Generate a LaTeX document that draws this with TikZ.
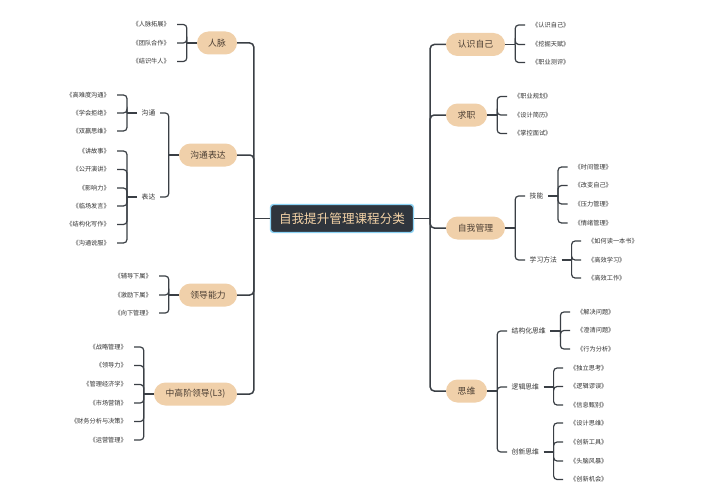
\documentclass[tikz,border=0pt]{standalone}
\usepackage{fontspec}
\setmainfont{Noto Sans CJK SC}
\usetikzlibrary{calc}
\definecolor{peach}{HTML}{F0D0AA}
\definecolor{lnc}{HTML}{3A3F45}
\definecolor{rootbg}{HTML}{2F353D}
\definecolor{rootbd}{HTML}{8CD3F5}
\definecolor{roottx}{HTML}{F3D2A6}
\definecolor{maintx}{HTML}{4B3E33}
\definecolor{booktx}{HTML}{333333}
\begin{document}
\begin{tikzpicture}[x=1pt,y=-1pt,
  rootbox/.style={draw=rootbd, line width=1.4pt, fill=rootbg, rounded corners=3pt,
    minimum width=143pt, minimum height=28pt, inner sep=0pt, text=roottx,
    font=\fontsize{12.6}{14}\selectfont},
  mainbox/.style={fill=peach, rounded corners=11.5pt, minimum height=23pt, inner sep=0pt,
    text=maintx, font=\fontsize{8.8}{10}\selectfont},
  sublab/.style={inner xsep=4.5pt, inner ysep=1pt, text=booktx, font=\fontsize{6.8}{8}\selectfont},
  booklab/.style={inner xsep=7pt, inner ysep=1pt, text=booktx, font=\fontsize{6.2}{7}\selectfont},
  conn/.style={draw=lnc, line width=1.5pt, rounded corners=4pt},
  brk/.style={draw=lnc, line width=1.2pt, rounded corners=3.5pt}]
\fill[white] (0,0) rectangle (704,503);
\useasboundingbox (0,0) rectangle (704,503);

% root and main nodes
\node[rootbox] (root) at (342,218.5) {自我提升管理课程分类};
\node[mainbox, minimum width=40pt] (rm) at (217,43) {人脉};
\node[mainbox, minimum width=58pt] (gt) at (208,155) {沟通表达};
\node[mainbox, minimum width=58pt] (ld) at (208,295) {领导能力};
\node[mainbox, minimum width=83pt] (zg) at (195.5,394) {中高阶领导(L3)};
\node[mainbox, minimum width=59pt] (rs) at (475.5,44.5) {认识自己};
\node[mainbox, minimum width=41pt] (qz) at (466.5,115) {求职};
\node[mainbox, minimum width=59pt] (zw) at (475.5,228) {自我管理};
\node[mainbox, minimum width=41pt] (sw) at (466.5,391) {思维};

% sub labels
\node[sublab] (gt1) at (148.5,113) {沟通};
\node[sublab] (gt2) at (148.5,197) {表达};
\node[sublab, anchor=west] (zw1) at (525,196) {技能};
\node[sublab, anchor=west] (zw2) at (525,260) {学习方法};
\node[sublab, anchor=west] (sw1) at (507,331) {结构化思维};
\node[sublab, anchor=west] (sw2) at (507,387) {逻辑思维};
\node[sublab, anchor=west] (sw3) at (507,452) {创新思维};

% left books
\begin{scope}[every node/.style={booklab, anchor=east}]
\node (rm1) at (177,24.5) {《人脉拓展》};
\node (rm2) at (177,43) {《团队合作》};
\node (rm3) at (177,61.5) {《结识牛人》};
\node (ga1) at (117,95) {《高难度沟通》};
\node (ga2) at (117,113) {《学会拒绝》};
\node (ga3) at (117,131) {《双赢思维》};
\node (gb1) at (117,151) {《讲故事》};
\node (gb2) at (117,169.5) {《公开演讲》};
\node (gb3) at (117,188) {《影响力》};
\node (gb4) at (117,206) {《临场发言》};
\node (gb5) at (117,224.5) {《结构化写作》};
\node (gb6) at (117,243) {《沟通说服》};
\node (ld1) at (159,276) {《辅导下属》};
\node (ld2) at (159,295) {《激励下属》};
\node (ld3) at (159,313) {《向下管理》};
\node (zg1) at (134,347) {《战略管理》};
\node (zg2) at (134,365.5) {《领导力》};
\node (zg3) at (134,384.5) {《管理经济学》};
\node (zg4) at (134,403) {《市场营销》};
\node (zg5) at (134,421.5) {《财务分析与决策》};
\node (zg6) at (134,440) {《运营管理》};
\end{scope}

% right books
\begin{scope}[every node/.style={booklab, anchor=west}]
\node (rs1) at (525,25) {《认识自己》};
\node (rs2) at (525,44.5) {《挖掘天赋》};
\node (rs3) at (525,62.5) {《职业测评》};
\node (qz1) at (507,96.5) {《职业规划》};
\node (qz2) at (507,115) {《设计简历》};
\node (qz3) at (507,133.5) {《掌控面试》};
\node (za1) at (567.5,167) {《时间管理》};
\node (za2) at (567.5,185.5) {《改变自己》};
\node (za3) at (567.5,204) {《压力管理》};
\node (za4) at (567.5,223) {《情绪管理》};
\node (zb1) at (581,241) {《如何读一本书》};
\node (zb2) at (581,260) {《高效学习》};
\node (zb3) at (581,278) {《高效工作》};
\node (sa1) at (570,312) {《解决问题》};
\node (sa2) at (570,330.5) {《澄清问题》};
\node (sa3) at (570,349) {《行为分析》};
\node (sb1) at (563,368) {《独立思考》};
\node (sb2) at (563,386.5) {《逻辑谬误》};
\node (sb3) at (563,405) {《信息甄别》};
\node (sc1) at (563,423) {《设计思维》};
\node (sc2) at (563,442) {《创新工具》};
\node (sc3) at (563,461) {《头脑风暴》};
\node (sc4) at (563,479.5) {《创新机会》};
\end{scope}

% trunks
\coordinate (LJ) at ($(root.west)+(-16pt,0)$);
\coordinate (RJ) at ($(root.east)+(16pt,0)$);
\draw[conn] (root.west) -- (LJ);
\draw[conn] (root.east) -- (RJ);
\foreach \m in {rm,gt,ld,zg} \draw[conn] (LJ) |- (\m.east);
\foreach \m in {rs,qz,zw,sw} \draw[conn] (RJ) |- (\m.west);

% left brackets
\foreach \p/\kids in {rm/{rm1,rm2,rm3}, gt/{gt1,gt2}, ld/{ld1,ld2,ld3}, zg/{zg1,zg2,zg3,zg4,zg5,zg6}, gt1/{ga1,ga2,ga3}, gt2/{gb1,gb2,gb3,gb4,gb5,gb6}}{
  \coordinate (j\p) at ($(\p.west)+(-10pt,0)$);
  \draw[brk] (\p.west) -- (j\p);
  \foreach \c in \kids \draw[brk] (j\p) |- (\c.east);
}
% right brackets
\foreach \p/\kids in {rs/{rs1,rs2,rs3}, qz/{qz1,qz2,qz3}, zw/{zw1,zw2}, sw/{sw1,sw2,sw3}, zw1/{za1,za2,za3,za4}, zw2/{zb1,zb2,zb3}, sw1/{sa1,sa2,sa3}, sw2/{sb1,sb2,sb3}, sw3/{sc1,sc2,sc3,sc4}}{
  \coordinate (j\p) at ($(\p.east)+(10pt,0)$);
  \draw[brk] (\p.east) -- (j\p);
  \foreach \c in \kids \draw[brk] (j\p) |- (\c.west);
}
\end{tikzpicture}
\end{document}
